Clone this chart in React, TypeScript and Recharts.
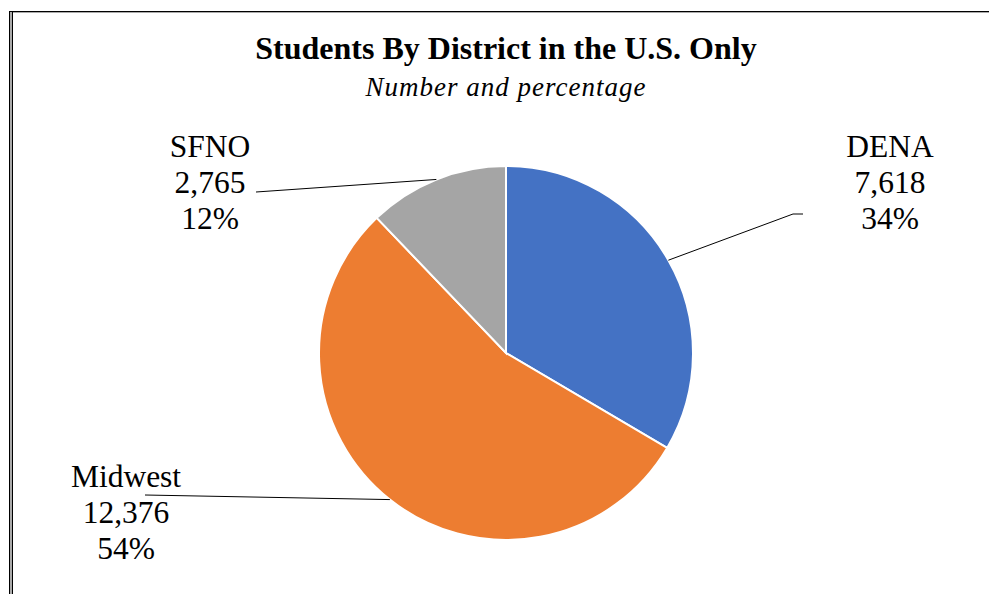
import React from "react"
import { PieChart, Pie, Cell } from "recharts"

const DISTRICTS = ["DENA", "Midwest", "SFNO"]
const STUDENTS = [7618, 12376, 2765]
const PERCENTS = ["34%", "54%", "12%"]
const COLORS = ["#4472c4", "#ed7d31", "#a5a5a5"]

// label placement relative to pie centre: elbow point, end of leader, text centre / first baseline
const LABEL_LAYOUT = [
  { elbow: [287, -139], end: [297, -139], text: [384, -196] },
  { elbow: [-361, 142], end: [-361, 142], text: [-380, 134] },
  { elbow: [-250, -161], end: [-250, -161], text: [-296, -196] },
]

const W = 989
const H = 594
const FONT = "'Liberation Serif', 'Times New Roman', serif"

const data = DISTRICTS.map((name, i) => ({ name, value: STUDENTS[i], pct: PERCENTS[i] }))

const RAD = Math.PI / 180

function renderLabel(props: any) {
  const { cx, cy, midAngle, outerRadius, index } = props
  const sx = cx + outerRadius * Math.cos(-midAngle * RAD)
  const sy = cy + outerRadius * Math.sin(-midAngle * RAD)
  const lay = LABEL_LAYOUT[index]
  const d = data[index]
  const tx = cx + lay.text[0]
  const ty = cy + lay.text[1]
  return (
    <g>
      <polyline
        points={`${sx},${sy} ${cx + lay.elbow[0]},${cy + lay.elbow[1]} ${cx + lay.end[0]},${cy + lay.end[1]}`}
        fill="none"
        stroke="#000"
        strokeWidth={1}
      />
      <text x={tx} y={ty} textAnchor="middle" fontFamily={FONT} fontSize={31.5} fill="#000">
        <tspan x={tx} dy={0}>{d.name}</tspan>
        <tspan x={tx} dy={36}>{d.value.toLocaleString("en-US")}</tspan>
        <tspan x={tx} dy={36}>{d.pct}</tspan>
      </text>
    </g>
  )
}

export default function App() {
  return (
    <div style={{ position: "absolute", left: 0, top: 0, width: W, height: H, background: "#fff" }}>
      {/* frame */}
      <div style={{ position: "absolute", left: 9, top: 11, right: 0, height: 1, background: "#000" }} />
      <div style={{ position: "absolute", left: 9, top: 12, right: 0, height: 1, background: "#aaa" }} />
      <div style={{ position: "absolute", left: 9, top: 11, bottom: 0, width: 1, background: "#000" }} />
      <div style={{ position: "absolute", left: 10, top: 12, bottom: 0, width: 2, background: "#aaa" }} />
      <div style={{ position: "absolute", left: 12, top: 12, bottom: 0, width: 1, background: "#000" }} />

      <div
        style={{
          position: "absolute",
          top: 31,
          left: 0,
          width: 1012,
          textAlign: "center",
          fontFamily: FONT,
          fontWeight: "bold",
          fontSize: 32,
          lineHeight: "34px",
        }}
      >
        Students By District in the U.S. Only
      </div>
      <div
        style={{
          position: "absolute",
          top: 72,
          left: 0,
          width: 1012,
          textAlign: "center",
          fontFamily: FONT,
          fontStyle: "italic",
          fontSize: 27,
          letterSpacing: 1,
          lineHeight: "30px",
        }}
      >
        Number and percentage
      </div>

      <PieChart width={W} height={H} style={{ position: "absolute", left: 0, top: 0 }}>
        <Pie
          data={data}
          dataKey="value"
          nameKey="name"
          cx={501}
          cy={348}
          outerRadius={187}
          startAngle={90}
          endAngle={-270}
          stroke="#fff"
          strokeWidth={2}
          label={renderLabel}
          labelLine={false}
          isAnimationActive={false}
        >
          {data.map((d, i) => (
            <Cell key={d.name} fill={COLORS[i]} />
          ))}
        </Pie>
      </PieChart>
    </div>
  )
}
